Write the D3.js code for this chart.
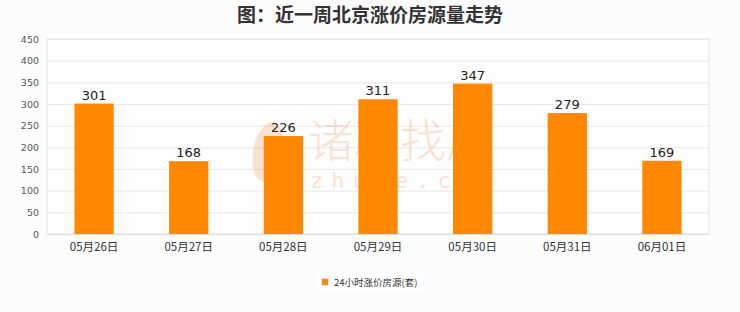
<!DOCTYPE html>
<html>
<head>
<meta charset="utf-8">
<script src="https://cdn.jsdelivr.net/npm/d3@7"></script>
<style>
  body { margin: 0; background: #fcfcfc; }
  svg { display: block; font-family: "Noto Sans CJK SC", "DejaVu Sans", sans-serif; }
</style>
</head>
<body>
<svg id="chart"></svg>
<script>
const dates = ['05月26日', '05月27日', '05月28日', '05月29日', '05月30日', '05月31日', '06月01日']
const counts = [301, 168, 226, 311, 347, 279, 169]
const yTicks = [0, 50, 100, 150, 200, 250, 300, 350, 400, 450]
const seriesName = '24小时涨价房源(套)'
const title = '图：近一周北京涨价房源量走势'

const width = 740
const height = 312
const margin = { top: 39, right: 31, bottom: 78, left: 47 }
const barColor = '#ff8800'

const svg = d3.select('#chart')
    .attr('width', width)
    .attr('height', height)

svg.append('rect')
    .attr('width', width)
    .attr('height', height)
    .attr('fill', '#fcfcfc')

const x = d3.scaleBand()
    .domain(dates)
    .range([margin.left, width - margin.right])
    .paddingInner(0.585)
    .paddingOuter(0.29)

const y = d3.scaleLinear()
    .domain([0, 450])
    .range([height - margin.bottom, margin.top])

// title
svg.append('text')
    .attr('x', 370)
    .attr('y', 22)
    .attr('text-anchor', 'middle')
    .attr('font-size', 19)
    .attr('font-weight', 'bold')
    .attr('fill', '#333')
    .text(title)

// plot background + grid
svg.append('rect')
    .attr('x', margin.left)
    .attr('y', margin.top)
    .attr('width', width - margin.left - margin.right)
    .attr('height', height - margin.top - margin.bottom)
    .attr('fill', '#fdfdfd')
    .attr('stroke', '#e3e3e3')

const yAxis = svg.append('g')
    .attr('transform', `translate(${margin.left},0)`)
    .call(d3.axisLeft(y).tickValues(yTicks).tickSize(-(width - margin.left - margin.right)).tickPadding(8))
yAxis.select('.domain').remove()
yAxis.selectAll('.tick line').attr('stroke', '#e8e8e8')
yAxis.selectAll('.tick text')
    .attr('fill', '#555')
    .attr('font-size', 9.5)
    .attr('font-family', 'DejaVu Sans, sans-serif')

// watermark
const wm = svg.append('g').attr('opacity', 0.2).attr('fill', '#f07a20')
wm.append('text')
    .attr('x', 308)
    .attr('y', 157)
    .attr('font-size', 46)
    .attr('font-weight', 300)
    .text('诸葛找房')
wm.append('text')
    .attr('x', 310)
    .attr('y', 188)
    .attr('font-size', 22)
    .attr('letter-spacing', 8)
    .attr('font-family', 'DejaVu Sans Mono, monospace')
    .text('zhuge.com')
wm.append('ellipse')
    .attr('cx', 268)
    .attr('cy', 152)
    .attr('rx', 15)
    .attr('ry', 30)
    .attr('transform', 'rotate(10 268 152)')

// bars
svg.append('g')
    .selectAll('rect')
    .data(counts)
    .join('rect')
    .attr('x', (d, i) => x(dates[i]))
    .attr('y', d => y(d))
    .attr('width', x.bandwidth())
    .attr('height', d => y(0) - y(d))
    .attr('fill', barColor)

svg.append('g')
    .selectAll('text')
    .data(counts)
    .join('text')
    .attr('x', (d, i) => x(dates[i]) + x.bandwidth() / 2)
    .attr('y', d => y(d) - 4)
    .attr('text-anchor', 'middle')
    .attr('font-size', 13)
    .attr('font-family', 'DejaVu Sans, sans-serif')
    .attr('fill', '#222')
    .text(d => d)

// x axis
const xAxis = svg.append('g')
    .attr('transform', `translate(0,${height - margin.bottom})`)
    .call(d3.axisBottom(x).tickSize(0).tickPadding(9))
xAxis.select('.domain').attr('stroke', '#dcdcdc')
xAxis.selectAll('.tick text')
    .attr('fill', '#333')
    .attr('font-size', 11.5)
    .attr('font-family', 'Noto Sans CJK SC, sans-serif')

// legend
const legend = svg.append('g').attr('transform', 'translate(316,273)')
legend.append('rect')
    .attr('width', 108)
    .attr('height', 18)
    .attr('fill', '#fff')
legend.append('rect')
    .attr('x', 6)
    .attr('y', 6)
    .attr('width', 6)
    .attr('height', 6)
    .attr('fill', barColor)
    .attr('stroke', '#999')
    .attr('stroke-width', 0.5)
legend.append('text')
    .attr('x', 18)
    .attr('y', 13)
    .attr('font-size', 9.5)
    .attr('fill', '#333')
    .text(seriesName)
</script>
</body>
</html>
